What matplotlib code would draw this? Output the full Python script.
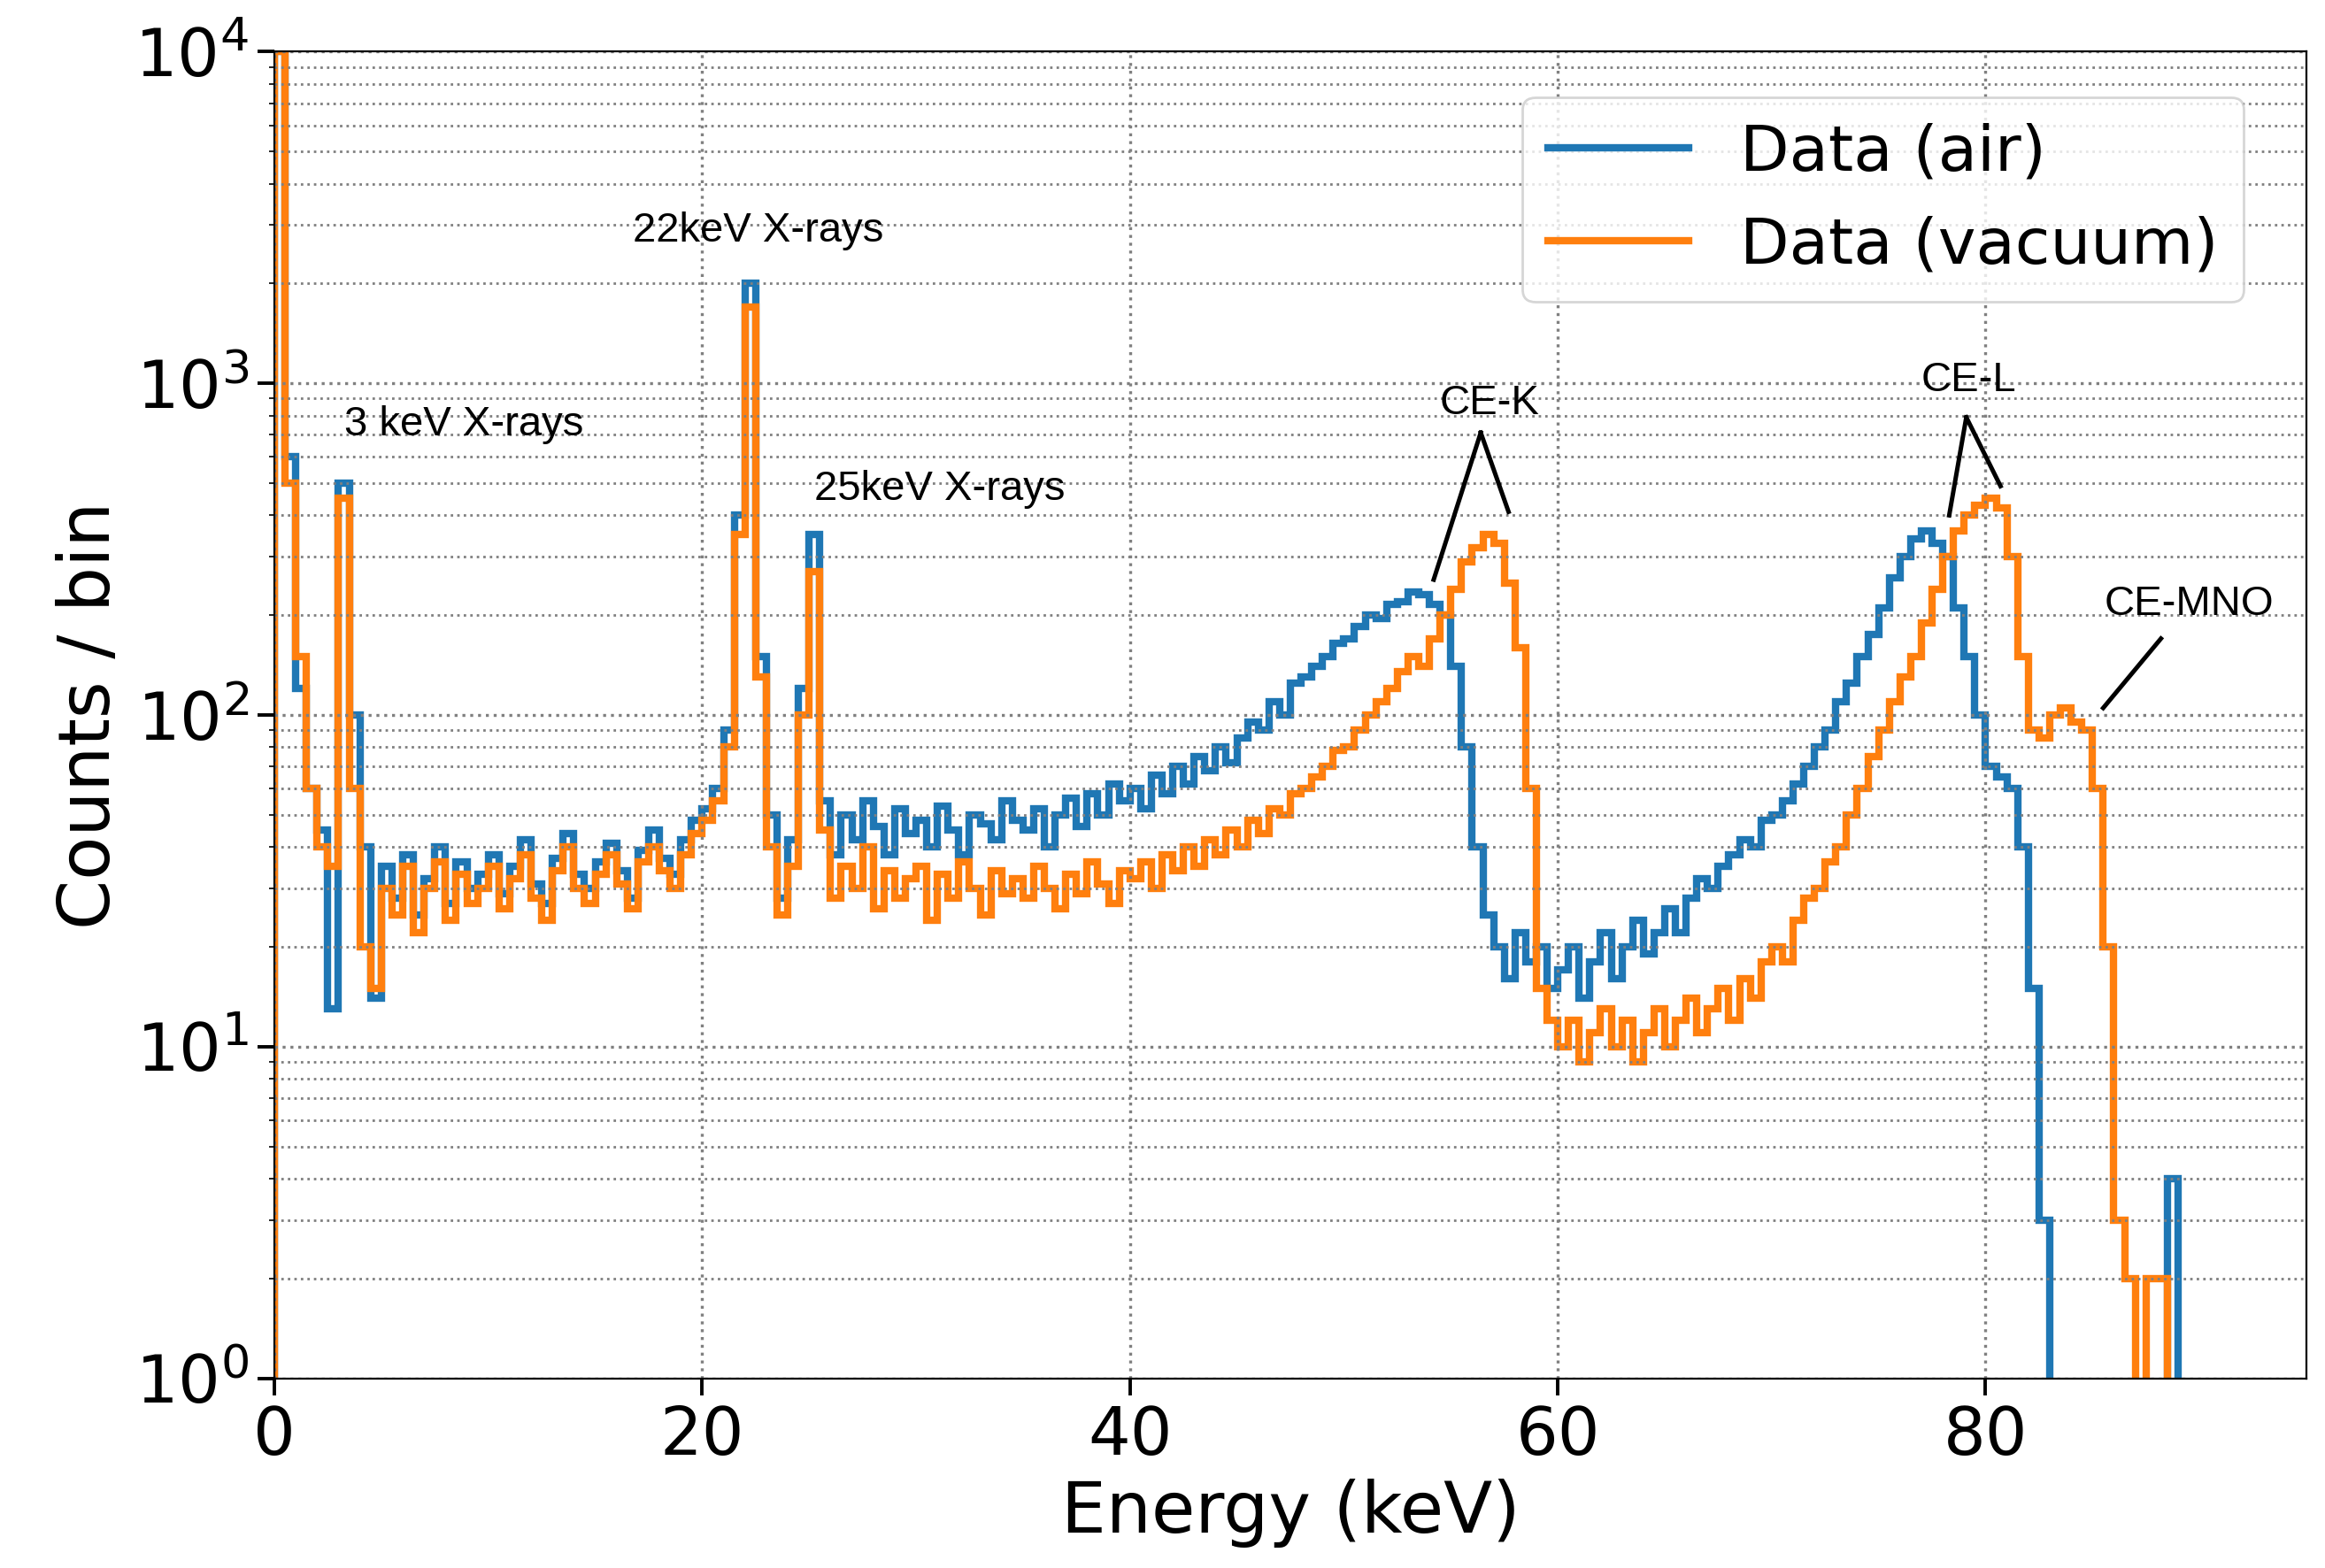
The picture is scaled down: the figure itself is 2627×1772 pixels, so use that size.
import matplotlib.pyplot as plt
import numpy as np

# 0.5 keV bins, 0 .. 89 keV
bin_width = 0.5
counts_air = [
    10000, 600, 120, 60, 45, 13, 500, 100, 40, 14,
    35, 28, 38, 25, 32, 40, 27, 36, 30, 33,
    38, 29, 35, 42, 31, 27, 37, 44, 33, 30,
    36, 41, 34, 28, 39, 45, 37, 33, 42, 48,
    52, 60, 90, 400, 2000, 150, 50, 28, 42, 120,
    350, 55, 38, 50, 42, 55, 46, 38, 52, 44,
    48, 40, 53, 45, 38, 50, 47, 42, 55, 48,
    45, 52, 40, 50, 56, 46, 58, 50, 62, 55,
    60, 52, 66, 58, 70, 62, 75, 68, 80, 72,
    85, 95, 90, 110, 100, 125, 130, 140, 150, 165,
    170, 185, 200, 195, 215, 220, 235, 230, 215, 200,
    140, 80, 40, 25, 20, 16, 22, 18, 20, 15,
    17, 20, 14, 18, 22, 16, 20, 24, 19, 22,
    26, 22, 28, 32, 30, 35, 38, 42, 40, 48,
    50, 55, 62, 70, 80, 90, 110, 125, 150, 175,
    210, 260, 300, 340, 360, 330, 300, 210, 150, 100,
    70, 65, 60, 40, 15, 3, 0, 0, 0, 0,
    0, 0, 0, 0, 0, 0, 0, 4,
]
counts_vacuum = [
    10000, 500, 150, 60, 40, 35, 450, 60, 20, 15,
    30, 25, 35, 22, 30, 36, 24, 33, 27, 30,
    35, 26, 32, 38, 28, 24, 34, 40, 30, 27,
    33, 38, 31, 26, 36, 40, 34, 30, 38, 44,
    48, 55, 80, 350, 1700, 130, 40, 25, 35, 100,
    270, 45, 28, 35, 30, 40, 26, 34, 28, 32,
    35, 24, 33, 28, 36, 30, 25, 34, 29, 32,
    28, 35, 30, 26, 33, 29, 36, 31, 27, 34,
    32, 36, 30, 38, 34, 40, 35, 42, 38, 45,
    40, 48, 44, 52, 50, 58, 60, 65, 70, 78,
    80, 90, 100, 110, 120, 135, 150, 140, 170, 200,
    240, 290, 320, 350, 330, 250, 160, 60, 15, 12,
    10, 12, 9, 11, 13, 10, 12, 9, 11, 13,
    10, 12, 14, 11, 13, 15, 12, 16, 14, 18,
    20, 18, 24, 28, 30, 36, 40, 50, 60, 75,
    90, 110, 130, 150, 190, 240, 300, 360, 400, 430,
    450, 420, 300, 150, 90, 85, 100, 105, 95, 90,
    60, 20, 3, 2, 0, 2, 2, 0,
]

edges = np.arange(len(counts_air) + 1) * bin_width
air = np.where(np.array(counts_air) > 0, counts_air, 0.1)
vac = np.where(np.array(counts_vacuum) > 0, counts_vacuum, 0.1)

fig = plt.figure(figsize=(13.135, 8.86), dpi=200)
ax = fig.add_axes([0.118, 0.121, 0.874, 0.846])

ax.stairs(air, edges, color='#1f77b4', linewidth=3, label='Data (air)')
ax.stairs(vac, edges, color='#ff7f0e', linewidth=3, label='Data (vacuum)')

ax.set_yscale('log')
ax.set_xlim(0, 95)
ax.set_ylim(1, 1e4)
ax.grid(True, which='major', linestyle=':', color='gray', linewidth=1.2)
ax.grid(True, which='minor', axis='y', linestyle=':', color='gray', linewidth=1.0)
ax.tick_params(labelsize=27, width=1.4, length=7)
ax.set_xlabel('Energy (keV)', fontsize=29)
ax.set_ylabel('Counts / bin', fontsize=29)

ann = dict(fontsize=17, ha='center', va='center', family='Liberation Sans')
ax.text(8.85, 750, '3 keV X-rays', **ann)
ax.text(22.6, 2880, '22keV X-rays', **ann)
ax.text(31.1, 480, '25keV X-rays', **ann)
ax.text(56.8, 870, 'CE-K', **ann)
ax.text(79.2, 1020, 'CE-L', **ann)
ax.text(89.5, 215, 'CE-MNO', **ann)

lk = dict(color='black', linewidth=1.8)
ax.plot([56.4, 54.2], [710, 256], **lk)
ax.plot([56.4, 57.7], [710, 410], **lk)
ax.plot([79.1, 78.3], [790, 400], **lk)
ax.plot([79.1, 80.7], [790, 490], **lk)
ax.plot([88.2, 85.5], [170, 105], **lk)

ax.legend(loc='upper right', fontsize=26, handlelength=2.2,
          bbox_to_anchor=(0.985, 0.99))

fig.savefig('out.png', dpi=200)
